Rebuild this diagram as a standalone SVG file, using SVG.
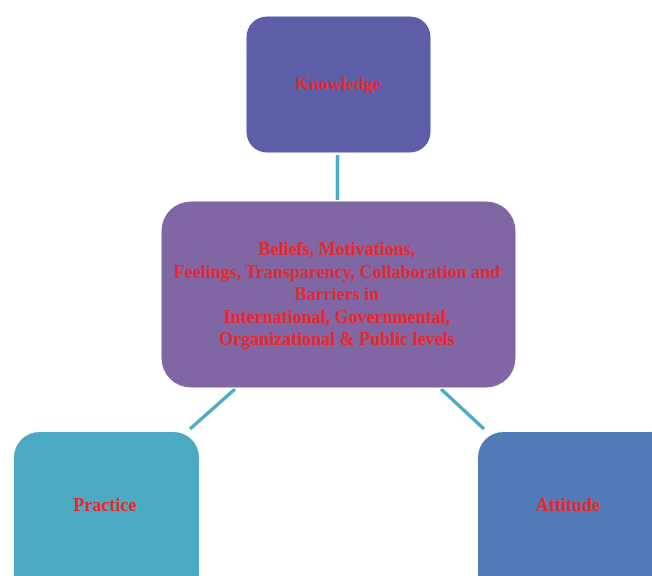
<svg xmlns="http://www.w3.org/2000/svg" width="652" height="576" viewBox="0 0 652 576">
<style>
.lbl{font-family:"Liberation Serif","Times New Roman",serif;font-weight:bold;font-size:18px;fill:#E8282D;text-anchor:middle}
.conn{stroke:#4BACC6;stroke-width:3.5;fill:none}
.box{stroke:#ffffff;stroke-width:1}
</style>
<rect width="652" height="576" fill="#ffffff"/>
<g id="connectors">
<line class="conn" x1="337.5" y1="155" x2="337.5" y2="200"/>
<line class="conn" x1="235" y1="389" x2="190" y2="429"/>
<line class="conn" x1="441" y1="389" x2="484" y2="429"/>
</g>
<g id="knowledge">
<rect class="box" x="246" y="16" width="185" height="137" rx="21" fill="#5E5DA8"/>
<text class="lbl" x="338" y="90">Knowledge</text>
</g>
<g id="center">
<rect class="box" x="161" y="201" width="355" height="187" rx="30" fill="#8066A2"/>
<text class="lbl" x="337" y="255">Beliefs, Motivations,</text>
<text class="lbl" x="337" y="277.5">Feelings, Transparency, Collaboration and</text>
<text class="lbl" x="337" y="300">Barriers in</text>
<text class="lbl" x="337" y="322.5">International, Governmental,</text>
<text class="lbl" x="337" y="345">Organizational &amp; Public levels</text>
</g>
<g id="practice">
<rect class="box" x="13.5" y="431.5" width="186" height="170" rx="26" fill="#4AAAC4"/>
<text class="lbl" x="105" y="511">Practice</text>
</g>
<g id="attitude">
<rect class="box" x="477.5" y="431.5" width="200" height="170" rx="26" fill="#527AB9"/>
<text class="lbl" x="568" y="511">Attitude</text>
</g>
</svg>
